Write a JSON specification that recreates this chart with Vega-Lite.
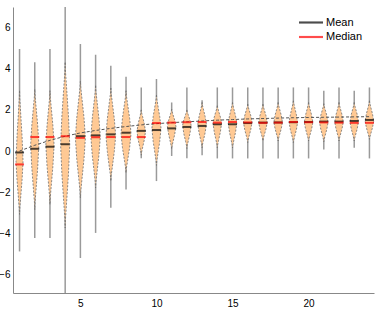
{
"$schema": "https://vega.github.io/schema/vega-lite/v6.json",
"width": 361, "height": 286,
"autosize": {"type": "none"},
"padding": {"left": 13, "top": 7, "right": 8, "bottom": 16},
"config": {"view": {"stroke": null}, "font": "Liberation Sans"},
"datasets": {
"stats": [
{"g":1,"wmin":-4.88,"wmax":4.96,"mean":-0.07,"median":-0.65},
{"g":2,"wmin":-4.23,"wmax":4.31,"mean":0.11,"median":0.68},
{"g":3,"wmin":-4.23,"wmax":4.96,"mean":0.21,"median":0.68},
{"g":4,"wmin":-6.9,"wmax":7.0,"mean":0.33,"median":0.72},
{"g":5,"wmin":-5.2,"wmax":5.2,"mean":0.72,"median":0.64},
{"g":6,"wmin":-3.98,"wmax":4.68,"mean":0.76,"median":0.67},
{"g":7,"wmin":-2.76,"wmax":4.15,"mean":0.81,"median":0.68},
{"g":8,"wmin":-1.87,"wmax":3.61,"mean":0.89,"median":0.68},
{"g":9,"wmin":-0.35,"wmax":3.09,"mean":0.98,"median":0.68},
{"g":10,"wmin":-1.46,"wmax":3.5,"mean":1.02,"median":1.36},
{"g":11,"wmin":-0.24,"wmax":2.36,"mean":1.1,"median":1.38},
{"g":12,"wmin":-0.35,"wmax":3.09,"mean":1.17,"median":1.4},
{"g":13,"wmin":-0.2,"wmax":2.47,"mean":1.22,"median":1.41},
{"g":14,"wmin":-0.36,"wmax":3.09,"mean":1.3,"median":1.38},
{"g":15,"wmin":-0.36,"wmax":3.09,"mean":1.3,"median":1.41},
{"g":16,"wmin":-0.36,"wmax":3.09,"mean":1.36,"median":1.39},
{"g":17,"wmin":-0.36,"wmax":3.09,"mean":1.38,"median":1.37},
{"g":18,"wmin":-0.36,"wmax":3.09,"mean":1.39,"median":1.38},
{"g":19,"wmin":-0.36,"wmax":3.09,"mean":1.4,"median":1.41},
{"g":20,"wmin":-0.36,"wmax":3.09,"mean":1.41,"median":1.4},
{"g":21,"wmin":0.08,"wmax":2.93,"mean":1.43,"median":1.39},
{"g":22,"wmin":-0.36,"wmax":3.09,"mean":1.43,"median":1.38},
{"g":23,"wmin":0.16,"wmax":2.93,"mean":1.46,"median":1.37},
{"g":24,"wmin":-0.36,"wmax":3.09,"mean":1.51,"median":1.37}
],
"fit": [
{"x":1,"y":0.0},{"x":2,"y":0.28},{"x":3,"y":0.52},{"x":4,"y":0.72},{"x":5,"y":0.88},{"x":6,"y":1.0},
{"x":7,"y":1.1},{"x":8,"y":1.19},{"x":9,"y":1.27},{"x":10,"y":1.33},{"x":11,"y":1.38},{"x":12,"y":1.42},
{"x":13,"y":1.46},{"x":14,"y":1.5},{"x":15,"y":1.53},{"x":16,"y":1.56},{"x":17,"y":1.58},{"x":18,"y":1.6},
{"x":19,"y":1.62},{"x":20,"y":1.63},{"x":21,"y":1.64},{"x":22,"y":1.65},{"x":23,"y":1.66},{"x":24,"y":1.67}
],
"violins": [
{"g":1,"y":-3.08,"lo":1,"hi":1},{"g":1,"y":-2.77,"lo":0.982,"hi":1.018},{"g":1,"y":-2.31,"lo":0.931,"hi":1.069},{"g":1,"y":-1.4,"lo":0.834,"hi":1.166},{"g":1,"y":-0.5,"lo":0.77,"hi":1.23},{"g":1,"y":0.7,"lo":0.834,"hi":1.166},{"g":1,"y":1.9,"lo":0.931,"hi":1.069},{"g":1,"y":2.52,"lo":0.982,"hi":1.018},{"g":1,"y":2.93,"lo":1,"hi":1},
{"g":2,"y":-2.85,"lo":2,"hi":2},{"g":2,"y":-2.47,"lo":1.978,"hi":2.022},{"g":2,"y":-1.91,"lo":1.919,"hi":2.081},{"g":2,"y":-0.8,"lo":1.806,"hi":2.194},{"g":2,"y":0.3,"lo":1.73,"hi":2.27},{"g":2,"y":1.25,"lo":1.806,"hi":2.194},{"g":2,"y":2.19,"lo":1.919,"hi":2.081},{"g":2,"y":2.68,"lo":1.978,"hi":2.022},{"g":2,"y":3.0,"lo":2,"hi":2},
{"g":3,"y":-2.6,"lo":3,"hi":3},{"g":3,"y":-2.25,"lo":2.978,"hi":3.022},{"g":3,"y":-1.73,"lo":2.919,"hi":3.081},{"g":3,"y":-0.72,"lo":2.806,"hi":3.194},{"g":3,"y":0.3,"lo":2.73,"hi":3.27},{"g":3,"y":1.22,"lo":2.806,"hi":3.194},{"g":3,"y":2.14,"lo":2.919,"hi":3.081},{"g":3,"y":2.61,"lo":2.978,"hi":3.022},{"g":3,"y":2.93,"lo":3,"hi":3},
{"g":4,"y":-3.74,"lo":4,"hi":4},{"g":4,"y":-3.26,"lo":3.976,"hi":4.024},{"g":4,"y":-2.53,"lo":3.91,"hi":4.09},{"g":4,"y":-1.11,"lo":3.784,"hi":4.216},{"g":4,"y":0.3,"lo":3.7,"hi":4.3},{"g":4,"y":1.7,"lo":3.784,"hi":4.216},{"g":4,"y":3.1,"lo":3.91,"hi":4.09},{"g":4,"y":3.82,"lo":3.976,"hi":4.024},{"g":4,"y":4.3,"lo":4,"hi":4},
{"g":5,"y":-2.28,"lo":5,"hi":5},{"g":5,"y":-1.93,"lo":4.974,"hi":5.026},{"g":5,"y":-1.4,"lo":4.901,"hi":5.099},{"g":5,"y":-0.38,"lo":4.762,"hi":5.238},{"g":5,"y":0.65,"lo":4.67,"hi":5.33},{"g":5,"y":1.61,"lo":4.762,"hi":5.238},{"g":5,"y":2.58,"lo":4.901,"hi":5.099},{"g":5,"y":3.07,"lo":4.974,"hi":5.026},{"g":5,"y":3.4,"lo":5,"hi":5},
{"g":6,"y":-1.79,"lo":6,"hi":6},{"g":6,"y":-1.49,"lo":5.975,"hi":6.025},{"g":6,"y":-1.04,"lo":5.907,"hi":6.093},{"g":6,"y":-0.17,"lo":5.777,"hi":6.223},{"g":6,"y":0.7,"lo":5.69,"hi":6.31},{"g":6,"y":1.56,"lo":5.777,"hi":6.223},{"g":6,"y":2.43,"lo":5.907,"hi":6.093},{"g":6,"y":2.87,"lo":5.975,"hi":6.025},{"g":6,"y":3.17,"lo":6,"hi":6},
{"g":7,"y":-1.46,"lo":7,"hi":7},{"g":7,"y":-1.19,"lo":6.974,"hi":7.026},{"g":7,"y":-0.8,"lo":6.904,"hi":7.096},{"g":7,"y":-0.02,"lo":6.77,"hi":7.23},{"g":7,"y":0.75,"lo":6.68,"hi":7.32},{"g":7,"y":1.56,"lo":6.77,"hi":7.23},{"g":7,"y":2.37,"lo":6.904,"hi":7.096},{"g":7,"y":2.78,"lo":6.974,"hi":7.026},{"g":7,"y":3.06,"lo":7,"hi":7},
{"g":8,"y":-1.06,"lo":8,"hi":8},{"g":8,"y":-0.83,"lo":7.974,"hi":8.026},{"g":8,"y":-0.49,"lo":7.901,"hi":8.099},{"g":8,"y":0.18,"lo":7.762,"hi":8.238},{"g":8,"y":0.85,"lo":7.67,"hi":8.33},{"g":8,"y":1.58,"lo":7.762,"hi":8.238},{"g":8,"y":2.31,"lo":7.901,"hi":8.099},{"g":8,"y":2.68,"lo":7.974,"hi":8.026},{"g":8,"y":2.93,"lo":8,"hi":8},
{"g":9,"y":-0.2,"lo":9,"hi":9},{"g":9,"y":-0.06,"lo":8.978,"hi":9.022},{"g":9,"y":0.15,"lo":8.916,"hi":9.084},{"g":9,"y":0.55,"lo":8.798,"hi":9.202},{"g":9,"y":0.95,"lo":8.72,"hi":9.28},{"g":9,"y":1.32,"lo":8.798,"hi":9.202},{"g":9,"y":1.69,"lo":8.916,"hi":9.084},{"g":9,"y":1.87,"lo":8.978,"hi":9.022},{"g":9,"y":2.0,"lo":9,"hi":9},
{"g":10,"y":-0.7,"lo":10,"hi":10},{"g":10,"y":-0.48,"lo":9.976,"hi":10.024},{"g":10,"y":-0.16,"lo":9.91,"hi":10.09},{"g":10,"y":0.47,"lo":9.784,"hi":10.216},{"g":10,"y":1.1,"lo":9.7,"hi":10.3},{"g":10,"y":1.67,"lo":9.784,"hi":10.216},{"g":10,"y":2.23,"lo":9.91,"hi":10.09},{"g":10,"y":2.53,"lo":9.976,"hi":10.024},{"g":10,"y":2.72,"lo":10,"hi":10},
{"g":11,"y":0.1,"lo":11,"hi":11},{"g":11,"y":0.23,"lo":10.978,"hi":11.022},{"g":11,"y":0.43,"lo":10.916,"hi":11.084},{"g":11,"y":0.82,"lo":10.798,"hi":11.202},{"g":11,"y":1.2,"lo":10.72,"hi":11.28},{"g":11,"y":1.49,"lo":10.798,"hi":11.202},{"g":11,"y":1.78,"lo":10.916,"hi":11.084},{"g":11,"y":1.93,"lo":10.978,"hi":11.022},{"g":11,"y":2.03,"lo":11,"hi":11},
{"g":12,"y":0.12,"lo":12,"hi":12},{"g":12,"y":0.26,"lo":11.978,"hi":12.022},{"g":12,"y":0.46,"lo":11.916,"hi":12.084},{"g":12,"y":0.85,"lo":11.798,"hi":12.202},{"g":12,"y":1.25,"lo":11.72,"hi":12.28},{"g":12,"y":1.51,"lo":11.798,"hi":12.202},{"g":12,"y":1.78,"lo":11.916,"hi":12.084},{"g":12,"y":1.91,"lo":11.978,"hi":12.022},{"g":12,"y":2.0,"lo":12,"hi":12},
{"g":13,"y":0.16,"lo":13,"hi":13},{"g":13,"y":0.3,"lo":12.978,"hi":13.022},{"g":13,"y":0.5,"lo":12.916,"hi":13.084},{"g":13,"y":0.9,"lo":12.798,"hi":13.202},{"g":13,"y":1.3,"lo":12.72,"hi":13.28},{"g":13,"y":1.67,"lo":12.798,"hi":13.202},{"g":13,"y":2.04,"lo":12.916,"hi":13.084},{"g":13,"y":2.23,"lo":12.978,"hi":13.022},{"g":13,"y":2.36,"lo":13,"hi":13},
{"g":14,"y":0.16,"lo":14,"hi":14},{"g":14,"y":0.3,"lo":13.978,"hi":14.022},{"g":14,"y":0.52,"lo":13.916,"hi":14.084},{"g":14,"y":0.93,"lo":13.798,"hi":14.202},{"g":14,"y":1.35,"lo":13.72,"hi":14.28},{"g":14,"y":1.65,"lo":13.798,"hi":14.202},{"g":14,"y":1.95,"lo":13.916,"hi":14.084},{"g":14,"y":2.1,"lo":13.978,"hi":14.022},{"g":14,"y":2.2,"lo":14,"hi":14},
{"g":15,"y":0.15,"lo":15,"hi":15},{"g":15,"y":0.29,"lo":14.978,"hi":15.022},{"g":15,"y":0.51,"lo":14.916,"hi":15.084},{"g":15,"y":0.93,"lo":14.798,"hi":15.202},{"g":15,"y":1.35,"lo":14.72,"hi":15.28},{"g":15,"y":1.7,"lo":14.798,"hi":15.202},{"g":15,"y":2.06,"lo":14.916,"hi":15.084},{"g":15,"y":2.24,"lo":14.978,"hi":15.022},{"g":15,"y":2.36,"lo":15,"hi":15},
{"g":16,"y":0.41,"lo":16,"hi":16},{"g":16,"y":0.53,"lo":15.978,"hi":16.022},{"g":16,"y":0.71,"lo":15.916,"hi":16.084},{"g":16,"y":1.05,"lo":15.798,"hi":16.202},{"g":16,"y":1.4,"lo":15.72,"hi":16.28},{"g":16,"y":1.71,"lo":15.798,"hi":16.202},{"g":16,"y":2.02,"lo":15.916,"hi":16.084},{"g":16,"y":2.17,"lo":15.978,"hi":16.022},{"g":16,"y":2.28,"lo":16,"hi":16},
{"g":17,"y":0.49,"lo":17,"hi":17},{"g":17,"y":0.6,"lo":16.978,"hi":17.022},{"g":17,"y":0.76,"lo":16.916,"hi":17.084},{"g":17,"y":1.08,"lo":16.798,"hi":17.202},{"g":17,"y":1.4,"lo":16.72,"hi":17.28},{"g":17,"y":1.71,"lo":16.798,"hi":17.202},{"g":17,"y":2.02,"lo":16.916,"hi":17.084},{"g":17,"y":2.17,"lo":16.978,"hi":17.022},{"g":17,"y":2.28,"lo":17,"hi":17},
{"g":18,"y":0.49,"lo":18,"hi":18},{"g":18,"y":0.6,"lo":17.978,"hi":18.022},{"g":18,"y":0.76,"lo":17.916,"hi":18.084},{"g":18,"y":1.08,"lo":17.798,"hi":18.202},{"g":18,"y":1.4,"lo":17.72,"hi":18.28},{"g":18,"y":1.74,"lo":17.798,"hi":18.202},{"g":18,"y":2.07,"lo":17.916,"hi":18.084},{"g":18,"y":2.25,"lo":17.978,"hi":18.022},{"g":18,"y":2.36,"lo":18,"hi":18},
{"g":19,"y":0.41,"lo":19,"hi":19},{"g":19,"y":0.53,"lo":18.978,"hi":19.022},{"g":19,"y":0.71,"lo":18.916,"hi":19.084},{"g":19,"y":1.05,"lo":18.798,"hi":19.202},{"g":19,"y":1.4,"lo":18.72,"hi":19.28},{"g":19,"y":1.76,"lo":18.798,"hi":19.202},{"g":19,"y":2.13,"lo":18.916,"hi":19.084},{"g":19,"y":2.32,"lo":18.978,"hi":19.022},{"g":19,"y":2.44,"lo":19,"hi":19},
{"g":20,"y":0.49,"lo":20,"hi":20},{"g":20,"y":0.6,"lo":19.978,"hi":20.022},{"g":20,"y":0.76,"lo":19.916,"hi":20.084},{"g":20,"y":1.08,"lo":19.798,"hi":20.202},{"g":20,"y":1.4,"lo":19.72,"hi":20.28},{"g":20,"y":1.74,"lo":19.798,"hi":20.202},{"g":20,"y":2.07,"lo":19.916,"hi":20.084},{"g":20,"y":2.25,"lo":19.978,"hi":20.022},{"g":20,"y":2.36,"lo":20,"hi":20},
{"g":21,"y":0.45,"lo":21,"hi":21},{"g":21,"y":0.56,"lo":20.978,"hi":21.022},{"g":21,"y":0.74,"lo":20.916,"hi":21.084},{"g":21,"y":1.07,"lo":20.798,"hi":21.202},{"g":21,"y":1.4,"lo":20.72,"hi":21.28},{"g":21,"y":1.72,"lo":20.798,"hi":21.202},{"g":21,"y":2.03,"lo":20.916,"hi":21.084},{"g":21,"y":2.19,"lo":20.978,"hi":21.022},{"g":21,"y":2.3,"lo":21,"hi":21},
{"g":22,"y":0.49,"lo":22,"hi":22},{"g":22,"y":0.6,"lo":21.978,"hi":22.022},{"g":22,"y":0.77,"lo":21.916,"hi":22.084},{"g":22,"y":1.09,"lo":21.798,"hi":22.202},{"g":22,"y":1.42,"lo":21.72,"hi":22.28},{"g":22,"y":1.75,"lo":21.798,"hi":22.202},{"g":22,"y":2.08,"lo":21.916,"hi":22.084},{"g":22,"y":2.25,"lo":21.978,"hi":22.022},{"g":22,"y":2.36,"lo":22,"hi":22},
{"g":23,"y":0.49,"lo":23,"hi":23},{"g":23,"y":0.6,"lo":22.978,"hi":23.022},{"g":23,"y":0.77,"lo":22.916,"hi":23.084},{"g":23,"y":1.1,"lo":22.798,"hi":23.202},{"g":23,"y":1.43,"lo":22.72,"hi":23.28},{"g":23,"y":1.76,"lo":22.798,"hi":23.202},{"g":23,"y":2.08,"lo":22.916,"hi":23.084},{"g":23,"y":2.25,"lo":22.978,"hi":23.022},{"g":23,"y":2.36,"lo":23,"hi":23},
{"g":24,"y":0.57,"lo":24,"hi":24},{"g":24,"y":0.68,"lo":23.978,"hi":24.022},{"g":24,"y":0.83,"lo":23.916,"hi":24.084},{"g":24,"y":1.14,"lo":23.798,"hi":24.202},{"g":24,"y":1.45,"lo":23.72,"hi":24.28},{"g":24,"y":1.8,"lo":23.798,"hi":24.202},{"g":24,"y":2.14,"lo":23.916,"hi":24.084},{"g":24,"y":2.32,"lo":23.978,"hi":24.022},{"g":24,"y":2.44,"lo":24,"hi":24}
]
},
"layer": [
{"data": {"name": "stats"},
 "mark": {"type": "rule", "color": "#9a9a9a", "strokeWidth": 1.5},
 "encoding": {
  "x": {"field": "g", "type": "quantitative",
        "scale": {"domain": [0.57, 24.3], "nice": false, "zero": false},
        "axis": {"title": null, "values": [5, 10, 15, 20], "ticks": false, "grid": false, "domainColor": "#888888", "labelFontSize": 10, "labelColor": "#000000", "labelPadding": 5, "labelFont": "Liberation Sans"}},
  "y": {"field": "wmin", "type": "quantitative",
        "scale": {"domain": [-6.9, 7], "nice": false, "zero": false},
        "axis": {"title": null, "values": [-6, -4, -2, 0, 2, 4, 6], "ticks": false, "grid": false, "domainColor": "#888888", "labelFontSize": 10, "labelColor": "#000000", "labelPadding": 3, "labelFont": "Liberation Sans"}},
  "y2": {"field": "wmax"}
 }},
{"data": {"name": "violins"},
 "mark": {"type": "area", "orient": "horizontal", "fill": "#ffc994", "stroke": "#707070", "strokeWidth": 0.8, "strokeDash": [2, 1.5]},
 "encoding": {
  "y": {"field": "y", "type": "quantitative"},
  "x": {"field": "lo", "type": "quantitative"},
  "x2": {"field": "hi"},
  "detail": {"field": "g"}
 }},
{"data": {"name": "fit"},
 "mark": {"type": "line", "color": "#555555", "strokeWidth": 1, "strokeDash": [3, 2]},
 "encoding": {
  "x": {"field": "x", "type": "quantitative"},
  "y": {"field": "y", "type": "quantitative"}
 }},
{"data": {"name": "stats"},
 "mark": {"type": "tick", "orient": "horizontal", "size": 9, "thickness": 2},
 "encoding": {
  "x": {"field": "g", "type": "quantitative"},
  "y": {"field": "mean", "type": "quantitative"},
  "color": {"datum": "Mean", "type": "nominal",
    "scale": {"domain": ["Mean", "Median"], "range": ["#000000", "#ff0000"]},
    "legend": {"title": null, "orient": "none", "legendX": 292, "legendY": 9.5, "symbolType": "M-2,-0.18H2V0.18H-2Z", "symbolSize": 144, "symbolStrokeWidth": 0, "symbolOpacity": 1, "labelFontSize": 11, "labelOffset": 9, "rowPadding": 3.5, "labelFont": "Liberation Sans", "labelColor": "#000000"}}
 }},
{"data": {"name": "stats"},
 "mark": {"type": "tick", "orient": "horizontal", "size": 9, "thickness": 2},
 "encoding": {
  "x": {"field": "g", "type": "quantitative"},
  "y": {"field": "median", "type": "quantitative"},
  "color": {"datum": "Median", "type": "nominal"}
 }}
]
}
